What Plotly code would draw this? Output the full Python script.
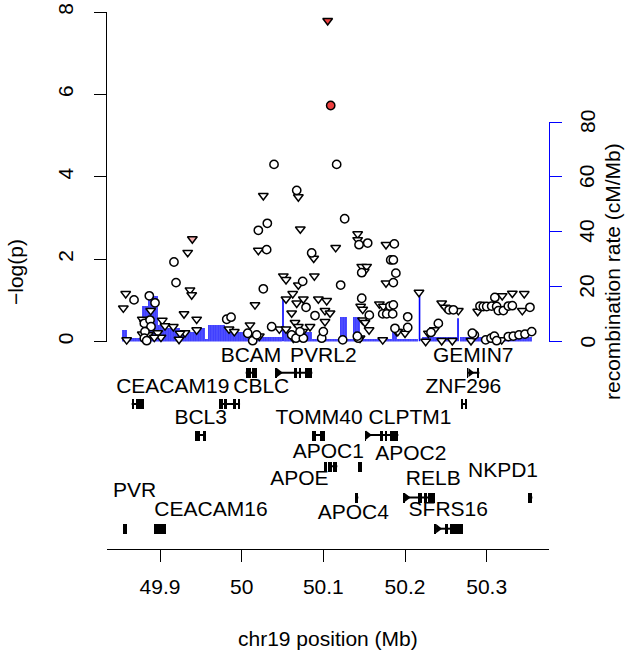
import plotly.graph_objects as go

# ---------------- data ----------------
# SNPs drawn as open circles (position in Mb, -log10 p)
circle_pos = [50.0396, 50.1163, 50.0674, 50.1261, 50.0314, 50.0204, 50.0306, 50.0857,
              50.1437, 50.1543, 50.1869, 50.1825, 50.1857, 49.9171, 50.1888, 50.1470,
              49.9196, 50.1857, 50.0747, 50.1212, 50.0265, 49.8682, 49.8869, 49.8939,
              50.1470, 50.0788, 50.0898, 50.1563, 50.1816, 50.1857, 50.1727, 50.1776,
              50.1849, 50.2033, 50.2033, 50.2408, 50.2318, 50.2539, 50.2592,
              49.8808, 49.8878, 49.8890, 49.8816, 49.8808, 49.8837, 49.9817, 49.9870,
              50.0074, 50.0135, 50.0184, 50.0367, 50.0612, 50.0665, 50.0755, 50.0714,
              50.0980, 50.1000, 50.1237, 50.1428, 50.1416, 50.1877, 50.2849, 50.2824,
              50.2918, 50.2959, 50.3000, 50.3061, 50.3122, 50.3143, 50.3204, 50.3265,
              50.3314, 50.3530, 50.3100,
              50.2988, 50.3053, 50.3094, 50.3122, 50.3265, 50.3326, 50.3396, 50.3469, 50.3551]
circle_logp = [4.30, 4.30, 3.67, 2.98, 2.87, 2.70, 2.23, 2.15,
               2.35, 2.39, 2.37, 1.98, 1.98, 1.93, 1.66, 1.67,
               1.43, 1.43, 1.46, 1.37, 1.28, 1.01, 1.11, 0.94,
               1.05, 0.83, 0.63, 0.64, 0.86, 0.89, 0.67, 0.67,
               0.67, 0.60, 0.34, 0.44, 0.22, 0.77, 0.77,
               0.44, 0.52, 0.36, 0.24, 0.08, 0.02, 0.54, 0.59,
               0.20, 0.02, 0.16, 0.36, 0.16, 0.08, 0.08, 0.24,
               0.08, 0.24, 0.04, 0.08, 0.13, 0.32, 0.16, 0.20,
               0.86, 0.85, 0.85, 0.86, 0.85, 0.75, 0.75, 0.86,
               0.87, 0.83, 1.07,
               0.04, 0.08, 0.13, 0.02, 0.12, 0.13, 0.16, 0.18, 0.24]

# SNPs drawn as open down-triangles
tri_pos = [50.0265, 50.0694, 50.0718, 50.1420, 50.1420, 50.1767, 50.1151, 50.0204,
           49.9339, 50.0882, 50.1470, 50.1530, 50.1500, 50.0890, 50.0510, 50.0543,
           50.1767, 50.0694, 49.9367, 49.9388, 49.8580, 50.2171, 50.0625, 50.0543,
           50.0755, 50.0939, 50.1041, 50.0674, 50.1686, 50.0163, 50.1457, 50.1735,
           49.8551, 50.1482, 49.8886, 50.1020, 50.0612, 50.1082, 49.9294, 49.8783,
           49.9449, 49.9028, 50.1480, 50.1020, 49.8808, 50.1510, 50.0653, 50.0102,
           49.9061, 49.9163, 50.0694, 50.0837, 49.9845, 50.0461, 50.0543, 49.9449,
           50.1560, 50.2359, 49.9910, 50.0747, 50.1898, 50.1911, 49.9306, 49.8972,
           49.9245, 50.2000, 50.2286, 49.8783, 49.8857, 50.0216, 49.9012, 49.8930,
           50.0632, 50.1449, 49.9233, 49.8592, 50.1727, 50.3184, 50.2253, 50.2449,
           50.2579, 50.2808, 50.2449, 50.2490, 50.2653, 50.2890, 50.3190, 50.3314,
           50.3460, 50.3436]
tri_logp = [3.54, 3.51, 2.73, 2.61, 2.47, 2.35, 2.28, 2.21,
            2.16, 2.02, 1.82, 1.82, 1.70, 1.59, 1.59, 1.50,
            1.42, 1.37, 1.25, 1.13, 1.16, 1.19, 1.16, 1.03,
            1.03, 1.03, 0.99, 0.93, 0.91, 0.89, 0.85, 0.85,
            0.81, 0.78, 0.75, 0.75, 0.69, 0.69, 0.67, 0.54,
            0.54, 0.51, 0.52, 0.48, 0.46, 0.46, 0.46, 0.40,
            0.38, 0.36, 0.36, 0.36, 0.30, 0.30, 0.30, 0.28,
            0.28, 0.28, 0.24, 0.24, 0.24, 0.24, 0.21, 0.21,
            0.20, 0.20, 0.20, 0.18, 0.16, 0.13, 0.10, 0.10,
            0.08, 0.08, 0.05, 0.04, 0.04, 0.04, 0.00, 0.02,
            0.02, 0.02, 0.93, 0.83, 0.75, 0.73, 1.11, 1.17,
            1.16, 0.75]

# highlighted SNPs
lead_tri_pos, lead_tri_logp = [50.1053], [7.79]
lead_circ_pos, lead_circ_logp = [50.1090], [5.73]
pink_tri_pos, pink_tri_logp = [49.9396], [2.49]

# recombination rate (cM/Mb) as step segments
recomb_start = [49.8535, 49.8596, 49.8780, 49.8853, 49.8976, 49.9037, 49.9245, 49.9429,
                49.9551, 49.9588, 49.9796, 49.9894, 50.0127, 50.0518, 50.0861, 50.1204,
                50.1290, 50.1363, 50.1449, 50.1841, 50.1902, 50.2208, 50.2673]
recomb_end = [49.8596, 49.8780, 49.8853, 49.8976, 49.9037, 49.9245, 49.9429, 49.9551,
              49.9588, 49.9796, 49.9894, 50.0127, 50.0494, 50.0861, 50.1204, 50.1290,
              50.1363, 50.1449, 50.1841, 50.1902, 50.2159, 50.2637, 50.3555]
recomb_rate = [4.2, 1.3, 13.0, 16.5, 6.0, 5.0, 3.5, 5.0,
               1.0, 6.0, 5.0, 3.5, 1.5, 3.5, 1.0, 9.0,
               1.0, 9.0, 1.0, 4.0, 1.0, 1.5, 1.5]
spike_pos = [50.0506, 50.2178, 50.2649]
spike_rate = [16.0, 17.6, 8.5]

# genes
gene_names = ["PVR", "CEACAM19", "CEACAM16", "BCL3", "CBLC", "BCAM", "PVRL2", "TOMM40",
              "APOE", "APOC1", "APOC4", "APOC2", "CLPTM1", "RELB", "SFRS16", "ZNF296",
              "GEMIN7", "NKPD1"]
gene_start = [49.8551, 49.8653, 49.8927, 49.9429, 49.9726, 50.0049, 50.0417, 50.0865,
              50.1012, 50.1061, 50.1388, 50.1428, 50.1510, 50.1979, 50.2367, 50.2694,
              50.2763, 50.3510]
gene_end = [49.8592, 49.8804, 49.9073, 49.9563, 49.9980, 50.0184, 50.0865, 50.1020,
            50.1041, 50.1171, 50.1428, 50.1470, 50.1918, 50.2367, 50.2706, 50.2755,
            50.2910, 50.3559]
gene_row = [-6, -2, -6, -3, -2, -1, -1, -3, -4, -4, -5, -4, -3, -5, -6, -2, -1, -5]
label_x = [49.8690, 49.9156, 49.9624, 49.9498, 50.0240, 50.0114, 50.1000, 50.0947,
           50.0706, 50.1061, 50.1367, 50.2070, 50.2061, 50.2346, 50.2530, 50.2714,
           50.2836, 50.3200]
label_y = [-4.81, -1.47, -5.42, -2.48, -1.47, -0.49, -0.49, -2.48,
           -4.44, -3.55, -5.53, -3.64, -2.48, -4.42, -5.42, -1.47,
           -0.49, -4.17]

exon_start = [49.8551, 49.8653, 49.8706, 49.8927, 49.9429, 49.9527, 49.9726, 49.9784,
              49.9890, 49.9959, 50.0049, 50.0122, 50.0417, 50.0645, 50.0702, 50.0776,
              50.0865, 50.0959, 50.1012, 50.1061, 50.1122, 50.1388, 50.1428, 50.1510,
              50.1694, 50.1755, 50.1816, 50.1979, 50.2163, 50.2233, 50.2286, 50.2367,
              50.2490, 50.2551, 50.2694, 50.2735, 50.2763, 50.2878, 50.3510]
exon_end = [49.8592, 49.8685, 49.8804, 49.9073, 49.9490, 49.9563, 49.9767, 49.9816,
            49.9931, 49.9980, 50.0110, 50.0184, 50.0429, 50.0674, 50.0727, 50.0865,
            50.0910, 50.1020, 50.1041, 50.1102, 50.1171, 50.1428, 50.1470, 50.1522,
            50.1727, 50.1784, 50.1918, 50.1991, 50.2204, 50.2265, 50.2367, 50.2379,
            50.2530, 50.2706, 50.2714, 50.2755, 50.2771, 50.2910, 50.3559]
exon_row = [-6, -2, -2, -6, -3, -3, -2, -2, -2, -2, -1, -1, -1, -1, -1, -1,
            -3, -3, -4, -4, -4, -5, -4, -3, -3, -3, -3, -5, -5, -5, -5, -6,
            -6, -6, -2, -2, -1, -1, -5]
arrow_pos = [50.0455, 50.1545, 50.2020, 50.2405, 50.2800]
arrow_row = [-1, -3, -5, -6, -1]

x_ticks = [49.9, 50.0, 50.1, 50.2, 50.3]
x_ticktext = ["49.9", "50", "50.1", "50.2", "50.3"]
p_ticks = [0, 2, 4, 6, 8]
r_ticks = [0, 20, 40, 60, 80]

# ---------------- figure ----------------
FONT = "Liberation Sans, Arial, Helvetica, sans-serif"
FS = 21

fig = go.Figure()

# recombination comb (drawn first, lowest subplot)
fig.add_trace(go.Bar(
    x=[(s + e) / 2 for s, e in zip(recomb_start, recomb_end)],
    width=[e - s for s, e in zip(recomb_start, recomb_end)],
    y=recomb_rate, xaxis="x", yaxis="y",
    marker=dict(color="rgba(0,0,255,0.6)", line_width=0,
                pattern=dict(shape="|", size=2.5, solidity=0.75,
                             fgcolor="#0000ff", bgcolor="rgba(0,0,255,0.55)")),
    hoverinfo="skip", showlegend=False))
sx, sy = [], []
for p, r in zip(spike_pos, spike_rate):
    sx += [p, p, None]
    sy += [0, r, None]
fig.add_trace(go.Scatter(x=sx, y=sy, mode="lines", xaxis="x", yaxis="y",
                         line=dict(color="#0000ff", width=1.6),
                         hoverinfo="skip", showlegend=False))

# SNPs
mk_line = dict(color="black", width=1.5)
fig.add_trace(go.Scatter(x=tri_pos, y=tri_logp, mode="markers", xaxis="x", yaxis="y2",
                         marker=dict(symbol="triangle-down", size=8.5, color="white", line=mk_line),
                         cliponaxis=False, showlegend=False))
fig.add_trace(go.Scatter(x=circle_pos, y=circle_logp, mode="markers", xaxis="x", yaxis="y2",
                         marker=dict(symbol="circle", size=8.3, color="white", line=mk_line),
                         cliponaxis=False, showlegend=False))
fig.add_trace(go.Scatter(x=pink_tri_pos, y=pink_tri_logp, mode="markers", xaxis="x", yaxis="y2",
                         marker=dict(symbol="triangle-down", size=8.5, color="#f7b0b0", line=mk_line),
                         cliponaxis=False, showlegend=False))
fig.add_trace(go.Scatter(x=lead_circ_pos, y=lead_circ_logp, mode="markers", xaxis="x", yaxis="y2",
                         marker=dict(symbol="circle", size=8.3, color="#ee4040", line=mk_line),
                         cliponaxis=False, showlegend=False))
fig.add_trace(go.Scatter(x=lead_tri_pos, y=lead_tri_logp, mode="markers", xaxis="x", yaxis="y2",
                         marker=dict(symbol="triangle-down", size=8.5, color="#ee4040", line=mk_line),
                         cliponaxis=False, showlegend=False))

# genes: introns
gx, gy = [], []
for s, e, r in zip(gene_start, gene_end, gene_row):
    gx += [s, e, None]
    gy += [r, r, None]
fig.add_trace(go.Scatter(x=gx, y=gy, mode="lines", xaxis="x", yaxis="y3",
                         line=dict(color="black", width=2), hoverinfo="skip", showlegend=False))
# exons
fig.add_trace(go.Bar(orientation="h", base=exon_start,
                     x=[e - s for s, e in zip(exon_start, exon_end)],
                     y=exon_row, width=0.32, xaxis="x", yaxis="y3",
                     marker=dict(color="black", line_width=0),
                     hoverinfo="skip", showlegend=False))
# strand arrows
fig.add_trace(go.Scatter(x=arrow_pos, y=arrow_row, mode="markers", xaxis="x", yaxis="y3",
                         marker=dict(symbol="triangle-right", size=8, color="black"),
                         cliponaxis=False, hoverinfo="skip", showlegend=False))
# gene labels
fig.add_trace(go.Scatter(x=label_x, y=label_y, mode="text", text=gene_names,
                         textposition="middle center", xaxis="x", yaxis="y3",
                         textfont=dict(family=FONT, size=FS, color="black"),
                         cliponaxis=False, hoverinfo="skip", showlegend=False))

# geometry measured on the 626x654 reference
W, H = 626, 654
L, T = 107, 12
R = W - 549
B = H - 549
pw, ph = W - L - R, H - T - B
Y0 = 341.5  # pixel row of y = 0


def fy(py):
    return (H - B - py) / ph


def fx(px):
    return (px - L) / pw


base_dom = fy(Y0)

axis_common = dict(showgrid=False, zeroline=False, ticks="outside", ticklen=12,
                   tickwidth=1.3, linewidth=1.3, showline=True, automargin=False,
                   tickfont=dict(family=FONT, size=FS, color="black"))

txt = dict(family=FONT, size=FS, color="black")
annotations = [
    dict(text="\u2212log(p)", xref="paper", yref="paper", x=fx(15), y=fy(272),
         textangle=-90, showarrow=False, xanchor="center", yanchor="middle", font=txt),
    dict(text="recombination rate (cM/Mb)", xref="paper", yref="paper",
         x=fx(612), y=fy(272), textangle=-90, showarrow=False,
         xanchor="center", yanchor="middle", font=txt),
    dict(text="chr19 position (Mb)", xref="paper", yref="paper",
         x=fx(328), y=fy(638), showarrow=False,
         xanchor="center", yanchor="middle", font=txt),
]
# right-axis tick labels (placed on the recombination scale)
for v in r_ticks:
    annotations.append(dict(text=str(v), xref="paper", yref="y", x=fx(587), y=v,
                            textangle=-90, showarrow=False, xanchor="center",
                            yanchor="middle", font=txt))

fig.update_layout(
    width=W, height=H,
    margin=dict(l=L, r=R, t=T, b=B, pad=0),
    paper_bgcolor="white", plot_bgcolor="rgba(0,0,0,0)",
    barmode="overlay", bargap=0,
    font=txt,
    xaxis=dict(range=[49.8351, 50.3763], anchor="y3", tickvals=x_ticks, ticktext=x_ticktext,
               linecolor="black", tickcolor="black", ticklabelstandoff=7, **axis_common),
    yaxis=dict(domain=[base_dom, fy(122)], range=[0, 80], anchor="x", side="right",
               tickvals=r_ticks, showticklabels=False, linecolor="#0000ff",
               tickcolor="#0000ff", **axis_common),
    yaxis2=dict(domain=[base_dom, 1.0], range=[0, 8], anchor="x", side="left",
                tickvals=p_ticks, tickangle=-90, linecolor="black", tickcolor="black",
                ticklabelstandoff=12, ticklabeloverflow="allow", **axis_common),
    yaxis3=dict(domain=[0, base_dom], range=[-(549 - Y0) / 31.2, 0], anchor="x",
                visible=False),
    showlegend=False,
    annotations=annotations,
)

# remove the browser's default page margin so the figure sits at the window origin
fig.write_html("out.html", config={"displayModeBar": False},
               post_script="document.body.style.margin='0px';")
